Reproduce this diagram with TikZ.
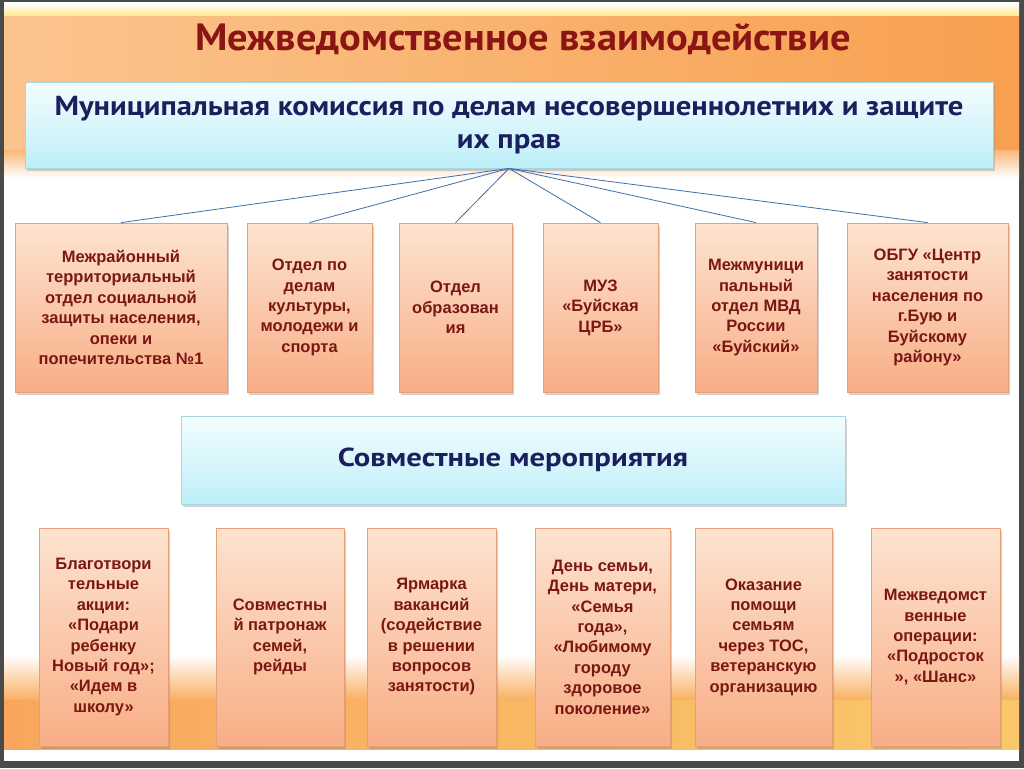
\documentclass[tikz,border=0pt]{standalone}
\usepackage{fontspec}
\setmainfont{Liberation Sans}
\newfontfamily\ptsans{PT Sans}
\usetikzlibrary{shadows}
\definecolor{framegray}{HTML}{4A4A4A}
\definecolor{bandL}{HTML}{FBC48E}
\definecolor{bandR}{HTML}{F7A04F}
\definecolor{bandmid}{HTML}{F9B878}
\definecolor{stripyellow}{HTML}{FFE680}
\definecolor{botL}{HTML}{F8A65E}
\definecolor{botR}{HTML}{FAC86A}
\definecolor{peachtop}{HTML}{FDE3D0}
\definecolor{peachbot}{HTML}{F8AE86}
\definecolor{peachedge}{HTML}{E6A078}
\definecolor{boxtext}{HTML}{7A1712}
\definecolor{cyantop}{HTML}{F4FDFF}
\definecolor{cyanbot}{HTML}{BDEFF9}
\definecolor{cyanedge}{HTML}{A6D6E2}
\definecolor{navy}{HTML}{1C1F5E}
\definecolor{titlered}{HTML}{8B1414}
\definecolor{linkblue}{HTML}{3F6FA8}
\tikzset{
  peachbox/.style={rectangle, draw=peachedge, line width=0.8pt, top color=peachtop, bottom color=peachbot,
    align=center, text=boxtext, inner sep=0pt,
    font=\bfseries\fontsize{16.5}{20.4}\selectfont,
    drop shadow={opacity=0.35, shadow xshift=2pt, shadow yshift=-2.5pt}},
  cyanbox/.style={rectangle, draw=cyanedge, line width=0.8pt, top color=cyantop, bottom color=cyanbot,
    align=center, text=navy, inner sep=0pt,
    drop shadow={opacity=0.35, shadow xshift=2pt, shadow yshift=-3pt}},
  link/.style={draw=linkblue, line width=0.8pt}
}
\begin{document}
\begin{tikzpicture}[x=1pt,y=-1pt]
\useasboundingbox (0,0) rectangle (1024,768);
% background
\fill[framegray] (0,0) rectangle (1024,768);
\fill[white] (4,3) rectangle (1019,761);
\shade[top color=white, bottom color=stripyellow] (4,3) rectangle (1019,17);
\shade[left color=bandL, right color=bandR] (4,17) rectangle (1019,150);
\shade[top color=bandmid, bottom color=white] (4,150) rectangle (1019,178);
\shade[top color=white, bottom color=botL!70!botR] (4,655) rectangle (1019,700);
\shade[left color=botL, right color=botR] (4,700) rectangle (1019,750);
\fill[white] (4,750) rectangle (1019,761);
% title
\node[font=\ptsans\bfseries\fontsize{38}{42}\selectfont, text=titlered] (title) at (523,39)
  {\scalebox{1.065}[1]{Межведомственное взаимодействие}};
% header
\node[cyanbox, minimum width=968pt, minimum height=86pt, font=\ptsans\bfseries\fontsize{27.5}{33}\selectfont] (hdr) at (509,125)
  {\scalebox{1.114}[1]{Муниципальная комиссия по делам несовершеннолетних и защите}\\\scalebox{1.114}[1]{их прав}};
% row 1
\node[peachbox, minimum width=212pt, minimum height=169pt] (a1) at (121,307.5)
  {Межрайонный\\территориальный\\отдел социальной\\защиты населения,\\опеки и\\попечительства №1};
\node[peachbox, minimum width=125pt, minimum height=169pt] (a2) at (309.5,307.5)
  {Отдел по\\делам\\культуры,\\молодежи и\\спорта};
\node[peachbox, minimum width=113pt, minimum height=169pt] (a3) at (455.5,307.5)
  {Отдел\\образован\\ия};
\node[peachbox, minimum width=115pt, minimum height=169pt] (a4) at (600.5,307.5)
  {МУЗ\\«Буйская\\ЦРБ»};
\node[peachbox, minimum width=122pt, minimum height=169pt] (a5) at (756,307.5)
  {Межмуници\\пальный\\отдел МВД\\России\\«Буйский»};
\node[peachbox, minimum width=161pt, minimum height=169pt] (a6) at (927.5,307.5)
  {ОБГУ «Центр\\занятости\\населения по\\г.Бую и\\Буйскому\\району»};
\foreach \n in {a1,a2,a3,a4,a5,a6} \draw[link] (hdr.south) -- (\n.north);
% middle
\node[cyanbox, minimum width=664pt, minimum height=88pt, font=\ptsans\bfseries\fontsize{26}{30}\selectfont] (mid) at (513,460)
  {\scalebox{1.18}[1]{Совместные мероприятия}};
% row 2
\node[peachbox, minimum width=129pt, minimum height=218pt] (c1) at (103.5,637)
  {Благотвори\\тельные\\акции:\\«Подари\\ребенку\\Новый год»;\\«Идем в\\школу»};
\node[peachbox, minimum width=128pt, minimum height=218pt] (c2) at (280,637)
  {Совместны\\й патронаж\\семей,\\рейды};
\node[peachbox, minimum width=129pt, minimum height=218pt] (c3) at (431.5,637)
  {Ярмарка\\вакансий\\(содействие\\в решении\\вопросов\\занятости)};
\node[peachbox, minimum width=135pt, minimum height=218pt] (c4) at (602.5,637)
  {День семьи,\\День матери,\\«Семья\\года»,\\«Любимому\\городу\\здоровое\\поколение»};
\node[peachbox, minimum width=137pt, minimum height=218pt] (c5) at (763.5,637)
  {Оказание\\помощи\\семьям\\через ТОС,\\ветеранскую\\организацию};
\node[peachbox, minimum width=129pt, minimum height=218pt] (c6) at (935.5,637)
  {Межведомст\\венные\\операции:\\«Подросток\\», «Шанс»};
\end{tikzpicture}
\end{document}
